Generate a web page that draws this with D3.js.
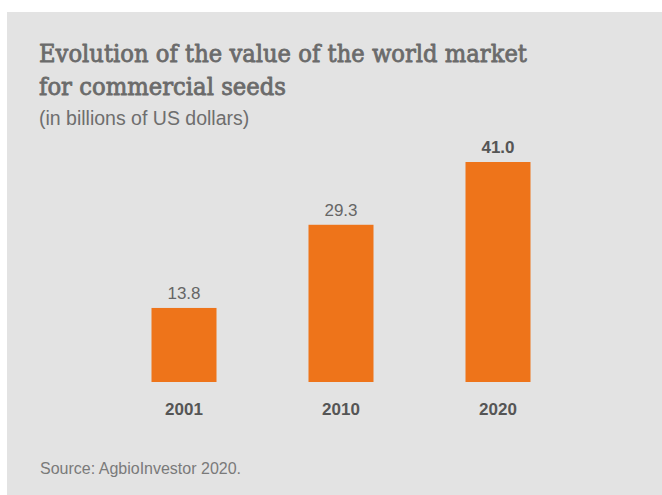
<!DOCTYPE html>
<html>
<head>
<meta charset="utf-8">
<script src="https://cdn.jsdelivr.net/npm/d3@7"></script>
<style>
  html, body { margin: 0; padding: 0; background: #ffffff; }
  svg { display: block; }
  .title { font-family: "DejaVu Serif", "Liberation Serif", serif; font-weight: normal; }
</style>
</head>
<body>
<div id="chart"></div>
<script>
// World market for commercial seeds, billions of US dollars
const years = ["2001", "2010", "2020"];
const values = [13.8, 29.3, 41.0];
const valueLabels = ["13.8", "29.3", "41.0"];
const titleLines = ["Evolution of the value of the world market", "for commercial seeds"];
const subtitle = "(in billions of US dollars)";
const source = "Source: AgbioInvestor 2020.";

const W = 662, H = 495;
const svg = d3.select("#chart").append("svg")
  .attr("width", W).attr("height", H);

// grey card
svg.append("rect")
  .attr("x", 7).attr("y", 12)
  .attr("width", W - 7).attr("height", H - 12)
  .attr("fill", "#e3e3e3");

// title (serif, thickened with a thin outline)
const titleWidths = [488, 247];
svg.append("g").selectAll("text")
  .data(titleLines)
  .join("text")
  .attr("class", "title")
  .attr("x", 39)
  .attr("y", (d, i) => 62 + i * 33)
  .attr("textLength", (d, i) => titleWidths[i])
  .attr("lengthAdjust", "spacingAndGlyphs")
  .attr("font-size", 25)
  .attr("fill", "#6b6b6b")
  .attr("stroke", "#6b6b6b")
  .attr("stroke-width", 0.85)
  .attr("stroke-linejoin", "round")
  .text(d => d);

svg.append("text")
  .attr("x", 39).attr("y", 125)
  .attr("font-family", "'Liberation Sans', Arial, sans-serif")
  .attr("font-size", 19.5)
  .attr("fill", "#6e6e6e")
  .text(subtitle);

// scales
const x = d3.scaleBand()
  .domain(years)
  .range([105.5, 576.5])
  .paddingInner(0.586)
  .paddingOuter(0.293);

const y = d3.scaleLinear()
  .domain([0, 41])
  .range([382, 162]);

const bars = svg.append("g");
bars.selectAll("rect")
  .data(values)
  .join("rect")
  .attr("x", (d, i) => x(years[i]))
  .attr("y", d => y(d))
  .attr("width", x.bandwidth())
  .attr("height", d => y(0) - y(d))
  .attr("fill", "#ee741a");

// value labels; the latest year is emphasised
bars.selectAll("text")
  .data(values)
  .join("text")
  .attr("x", (d, i) => x(years[i]) + x.bandwidth() / 2)
  .attr("y", d => y(d) - 9)
  .attr("text-anchor", "middle")
  .attr("font-family", "'Liberation Sans', Arial, sans-serif")
  .attr("font-size", 17)
  .attr("font-weight", (d, i) => i === values.length - 1 ? "bold" : "normal")
  .attr("fill", (d, i) => i === values.length - 1 ? "#555555" : "#666666")
  .text((d, i) => valueLabels[i]);

// category axis, line and ticks hidden
const xAxis = svg.append("g")
  .attr("transform", `translate(0,${y(0)})`)
  .call(d3.axisBottom(x).tickSize(0).tickPadding(21));
xAxis.select(".domain").remove();
xAxis.selectAll("text")
  .attr("font-family", "'Liberation Sans', Arial, sans-serif")
  .attr("font-size", 17)
  .attr("font-weight", "bold")
  .attr("fill", "#555555");

svg.append("text")
  .attr("x", 40).attr("y", 474)
  .attr("font-family", "'Liberation Sans', Arial, sans-serif")
  .attr("font-size", 16)
  .attr("fill", "#7a7a7a")
  .text(source);
</script>
</body>
</html>
